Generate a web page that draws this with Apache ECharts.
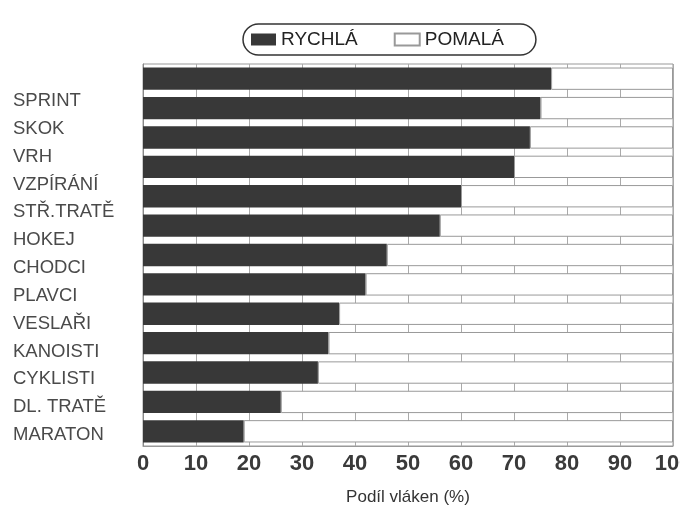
<!DOCTYPE html>
<html>
<head>
<meta charset="utf-8">
<script src="https://cdn.jsdelivr.net/npm/echarts@6/dist/echarts.min.js"></script>
<style>html,body{margin:0;padding:0;background:#fff}#c{width:680px;height:515px}</style>
</head>
<body>
<div id="c"></div>
<script>
const categories = ['SPRINT','SKOK','VRH','VZPÍRÁNÍ','STŘ.TRATĚ','HOKEJ','CHODCI','PLAVCI','VESLAŘI','KANOISTI','CYKLISTI','DL. TRATĚ','MARATON'];
const rychla = [77, 75, 73, 70, 60, 56, 46, 42, 37, 35, 33, 26, 19];
const pomala = [23, 25, 27, 30, 40, 44, 54, 58, 63, 65, 67, 74, 81];
const xTicks = [0, 10, 20, 30, 40, 50, 60, 70, 80, 90, 100];

const font = 'Liberation Sans, Arial, sans-serif';
const chart = echarts.init(document.getElementById('c'), null, {renderer: 'canvas'});
chart.setOption({
  animation: false,
  backgroundColor: '#fff',
  textStyle: {fontFamily: font},
  legend: {
    left: 243, top: 24,
    padding: [6, 32, 6, 8],
    itemGap: 36,
    itemWidth: 25, itemHeight: 12,
    borderColor: '#333', borderWidth: 1.5, borderRadius: 16,
    textStyle: {fontSize: 19, color: '#222', fontFamily: font},
    data: [{name: 'RYCHLÁ', icon: 'rect'}, {name: 'POMALÁ', icon: 'rect'}]
  },
  grid: [
    {left: 143, right: 7, top: 64, bottom: 69, show: true, borderColor: '#999', borderWidth: 1, containLabel: false, outerBoundsMode: 'none'},
    {left: 143, right: 7, top: 87, height: 362, containLabel: false, outerBoundsMode: 'none'}
  ],
  xAxis: [
    {
      type: 'value', gridIndex: 0, min: 0, max: 100, interval: 10,
      name: 'Podíl vláken (%)', nameLocation: 'middle', nameGap: 43,
      nameTextStyle: {fontSize: 17, color: '#333', fontFamily: font},
      axisLine: {show: true, lineStyle: {color: '#999'}},
      axisTick: {show: false},
      splitLine: {show: true, lineStyle: {color: '#aaa', width: 1}},
      axisLabel: {
        fontSize: 22, fontWeight: 'bold', color: '#3a3a3a', margin: 7, fontFamily: font,
        hideOverlap: false,
        formatter: v => xTicks.includes(v) ? String(v) : ''
      }
    },
    {type: 'value', gridIndex: 1, min: 0, max: 100, show: false}
  ],
  yAxis: [
    {
      type: 'category', gridIndex: 0, inverse: true, data: categories,
      axisLine: {show: true, lineStyle: {color: '#888'}},
      axisTick: {show: false},
      axisLabel: {show: false},
      splitLine: {show: false}
    },
    {
      type: 'category', gridIndex: 1, inverse: true, data: categories,
      axisLine: {show: false}, axisTick: {show: false},
      axisLabel: {show: true, align: 'left', margin: 130, fontSize: 18.5, color: '#4a4a4a', fontFamily: font}
    }
  ],
  series: [
    {
      name: 'RYCHLÁ', type: 'bar', stack: 'total', xAxisIndex: 0, yAxisIndex: 0,
      data: rychla, barCategoryGap: '24%',
      itemStyle: {color: '#383838', borderColor: '#383838', borderWidth: 0}
    },
    {
      name: 'POMALÁ', type: 'bar', stack: 'total', xAxisIndex: 0, yAxisIndex: 0,
      data: pomala, barCategoryGap: '24%',
      itemStyle: {color: '#ffffff', borderColor: '#999', borderWidth: 1}
    }
  ]
});
</script>
</body>
</html>
